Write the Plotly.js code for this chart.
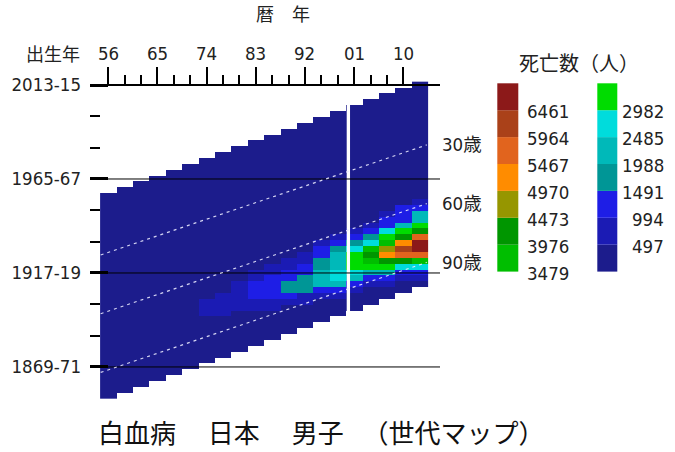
<!DOCTYPE html>
<html><head><meta charset="utf-8">
<script src="https://cdn.plot.ly/plotly-3.0.1.min.js"></script>
<style>html,body{margin:0;padding:0;background:#fff}</style>
</head><body><div id="chart" style="width:675px;height:452px"></div>
<script>
// ---- data ----
const periods = [1956,1959,1962,1965,1968,1971,1974,1977,1980,1983,1986,1989,1992,1995,1998,2001,2004,2007,2010,2013];
const periodTickVals = [1956,1965,1974,1983,1992,2001,2010];
const periodTickText = ['56','65','74','83','92','01','10'];
const periodMinorTicks = [1959,1962,1968,1971,1977,1980,1986,1989,1995,1998,2004,2007];
const ageGroupStarts = [0,3,6,9,12,15,18,21,24,27,30,33,36,39,42,45,48,51,54,57,60,63,66,69,72,75,78,81,84,87,90,93,96,99,102];
const cohortTickVals = [2014,1966,1918,1870];
const cohortTickText = ['2013-15','1965-67','1917-19','1869-71'];
const cohortMinorTicks = [1998,1982,1950,1934,1902,1886];
const ageLines = [30,60,90];
const ageLineLabels = ['30歳','60歳','90歳'];
const levelThresholds = [0,497,994,1491,1988,2485,2982,3479,3976,4473,4970,5467,5964,6461];
const levelColors = ['#1c1c8c','#1b1bb4','#1e1ee6','#009696','#00b9b9','#00dcdc','#00dc00','#00be00','#009600','#969600','#ff8c00','#e1641e','#aa4119','#8c1919'];
// deaths per period (rows) by age group (columns)
const deaths = [
 [150,140,100,80,75,80,85,90,95,100,110,120,130,140,150,160,170,175,180,180,175,165,150,130,105,80,55,35,20,10,5,2,1,0,0],
 [170,160,110,85,80,85,90,95,100,110,120,130,140,155,170,180,190,200,205,205,200,190,175,150,125,95,65,40,25,12,5,2,1,0,0],
 [185,170,115,90,85,90,95,100,105,115,125,135,150,165,180,195,210,220,230,235,230,220,200,175,145,110,75,48,28,14,6,2,1,0,0],
 [190,175,120,90,85,90,95,100,110,120,130,140,155,170,190,210,225,240,255,265,265,255,235,210,175,135,95,60,35,17,7,3,1,0,0],
 [185,170,115,85,80,85,90,95,105,115,125,140,155,175,195,215,235,255,275,290,295,290,275,250,215,170,120,78,45,22,9,3,1,0,0],
 [175,160,110,80,75,80,85,90,100,110,120,135,150,170,195,220,245,270,295,315,330,335,325,300,265,215,155,100,58,28,11,4,1,0,0],
 [165,150,105,75,70,75,80,85,95,105,115,130,145,165,190,215,245,275,305,335,360,380,390,420,520,540,505,380,230,120,45,15,4,1,0],
 [150,140,95,70,65,70,75,80,90,100,110,125,140,160,185,210,240,275,310,345,380,410,440,470,580,640,630,520,360,200,80,25,6,1,0],
 [140,130,90,65,60,65,70,75,85,95,105,120,135,155,180,210,240,275,315,355,395,430,470,540,690,780,800,700,480,280,120,38,9,2,0],
 [130,120,85,60,55,60,65,70,80,90,100,115,130,150,175,205,240,280,320,365,410,455,520,640,1010,1100,1050,870,620,380,170,55,13,2,0],
 [120,110,80,55,50,55,60,65,75,85,95,110,125,145,170,200,235,275,320,370,420,470,560,760,1050,1250,1350,1180,860,540,250,80,18,3,0],
 [110,100,75,50,45,50,55,60,70,80,90,105,120,140,165,195,230,270,315,365,420,480,600,850,1150,1400,1560,1520,1020,640,320,110,25,4,0],
 [100,90,70,48,42,48,52,58,68,78,88,100,115,135,160,190,225,265,310,360,420,490,640,920,1220,1450,1700,1820,1650,900,560,180,40,6,1],
 [95,85,65,45,40,45,50,55,65,75,85,98,112,130,155,185,220,260,305,360,425,520,1000,1300,1560,1850,2050,2250,2150,1200,700,260,60,9,1],
 [90,80,60,42,38,42,48,52,62,72,82,95,108,125,150,180,215,255,300,355,430,540,1120,1600,2000,2200,2400,2620,2700,2100,1150,520,110,15,2],
 [85,75,58,40,36,40,45,50,60,70,80,92,105,122,146,176,210,250,295,350,420,560,1150,1700,2550,3050,3250,3150,2700,2150,1250,620,140,20,3],
 [80,72,55,38,34,38,43,48,57,67,77,88,100,118,142,172,206,245,290,345,420,580,1200,1800,2650,3600,4050,3750,3150,2250,1300,700,160,24,3],
 [76,68,52,36,32,36,41,46,55,64,74,85,98,115,140,170,205,245,290,350,700,1020,1350,2600,3150,3750,4700,5100,4150,3200,2200,1050,540,60,5],
 [72,64,50,34,30,34,39,44,52,61,71,82,95,112,137,168,203,243,290,350,1000,1050,1450,2300,3200,4250,5250,6200,5750,4300,2750,1250,620,90,8],
 [68,60,48,32,28,32,37,42,50,58,68,78,92,110,135,165,200,240,288,350,600,1100,2050,2400,3300,4300,5800,6900,7100,5900,3800,2700,1200,560,130]
];

// ---- build ----
const W = 675, H = 452;
const px = v => v / W, py = v => 1 - v / H;
const numFont = "'Liberation Sans Narrow', 'DejaVu Sans Condensed', 'Liberation Sans', sans-serif";
const jpFont = "'Noto Sans CJK JP', sans-serif";
const NUM = 18.5;
const OFF = 1.2; // vertical plotting offset of cohort cells
const zmax = levelThresholds[1] * levelColors.length;

const cMin = periods[0] + OFF - ageGroupStarts[ageGroupStarts.length - 1];
const cMax = periods[periods.length - 1] + OFF;
const rows = [];
for (let c = cMin; c <= cMax + 0.01; c += 3) rows.push(+c.toFixed(1));
const z = rows.map(c => periods.map((p, k) => {
  const a = p + OFF - c;
  const j = ageGroupStarts.findIndex(s => Math.abs(s - a) < 0.5);
  return j < 0 ? null : deaths[k][j];
}));
const colorscale = [];
levelColors.forEach((col, i) => {
  colorscale.push([i / levelColors.length, col]);
  colorscale.push([(i + 1) / levelColors.length, col]);
});

const shapes = [];
shapes.push({type:'rect', xref:'x', yref:'y', x0:1999.64, x1:2000.25, y0:1888, y1:2008, fillcolor:'#fff', line:{width:0}, layer:'above'});
cohortTickVals.slice(1).forEach(c => shapes.push({type:'line', xref:'paper', yref:'y', x0:px(90), x1:px(440), y0:c, y1:c, line:{color:'#000', width:1}}));
const ax0 = 1954.6, ax1 = 2014.3;
ageLines.forEach(a => shapes.push({type:'line', xref:'x', yref:'y', x0:ax0, x1:ax1, y0:ax0 - a + 2.6, y1:ax1 - a - 0.9,
  line:{color:'rgba(235,235,255,0.9)', width:1.2, dash:'3px,4px'}}));

const annotations = [];
ageLines.forEach((a, i) => annotations.push({xref:'paper', yref:'y', x:px(440), y:ax1 - a - 0.9, xanchor:'left', yanchor:'middle',
  text:ageLineLabels[i], showarrow:false, font:{family:"'Liberation Sans Narrow', 'DejaVu Sans Condensed', 'Noto Sans CJK JP', sans-serif", size:NUM, color:'#222'}}));
periodTickVals.forEach((v, i) => annotations.push({xref:'x', yref:'paper', x:v, y:py(53.5), xanchor:'center', yanchor:'middle',
  text:periodTickText[i], showarrow:false, font:{family:numFont, size:NUM, color:'#222'}}));

const boxH = 26.9, boxTop = 83.3;
levelColors.forEach((col, i) => {
  const left = i >= 7;
  const r = left ? 13 - i : 6 - i;
  const x0 = left ? 497.3 : 597.3, x1 = left ? 518.3 : 617.3;
  const t = boxTop + boxH * r, b = t + boxH;
  shapes.push({type:'rect', xref:'paper', yref:'paper', x0:px(x0), x1:px(x1), y0:py(b), y1:py(t), fillcolor:col, line:{width:0}});
  if (i > 0) annotations.push({xref:'paper', yref:'paper', x: left ? px(525) : px(666), y: py(b + 1.5),
    xanchor: left ? 'left' : 'right', yanchor:'middle', text:String(levelThresholds[i]), showarrow:false,
    font:{family:numFont, size:NUM, color:'#222'}});
});
annotations.push({xref:'paper', yref:'paper', x:px(579), y:py(63), text:'死亡数（人）', showarrow:false, xanchor:'center', yanchor:'middle', font:{family:jpFont, size:20, color:'#222'}});
annotations.push({xref:'paper', yref:'paper', x:px(283), y:py(13), text:'暦　年', showarrow:false, xanchor:'center', yanchor:'middle', font:{family:jpFont, size:18, color:'#222'}});
annotations.push({xref:'paper', yref:'paper', x:px(53), y:py(53), text:'出生年', showarrow:false, xanchor:'center', yanchor:'middle', font:{family:jpFont, size:18, color:'#222'}});
annotations.push({xref:'paper', yref:'paper', x:px(320.5), y:py(451), text:'白血病 　日本 　男子 　（世代マップ）', showarrow:false, xanchor:'center', yanchor:'bottom', borderpad:0, font:{family:jpFont, size:26, color:'#111'}});

const trace = {type:'heatmap', x:periods, y:rows, z:z, colorscale:colorscale, zmin:0, zmax:zmax,
  showscale:false, hoverinfo:'skip', zsmooth:false};

const layout = {
  width:W, height:H, margin:{l:0, r:0, t:0, b:0, autoexpand:false},
  paper_bgcolor:'#fff', plot_bgcolor:'rgba(0,0,0,0)', showlegend:false,
  xaxis:{domain:[px(90), px(440)], range:[1952.65, 2016.72], anchor:'free', position:py(85), side:'top',
    showline:true, linecolor:'#000', linewidth:2, ticks:'outside', ticklen:17, tickwidth:2, tickcolor:'#000',
    tickmode:'array', tickvals:periodTickVals, showticklabels:false,
    minor:{tickmode:'array', tickvals:periodMinorTicks, ticks:'outside', ticklen:9, tickwidth:2, tickcolor:'#000'},
    showgrid:false, zeroline:false, fixedrange:true},
  yaxis:{domain:[py(405), py(78)], range:[1850.57, 2017.575], anchor:'x', showline:false,
    ticks:'inside', ticklen:18, tickwidth:3, tickcolor:'#000',
    tickmode:'array', tickvals:cohortTickVals, ticktext:cohortTickText, ticklabelstandoff:8,
    tickfont:{family:numFont, size:NUM, color:'#222'},
    minor:{tickmode:'array', tickvals:cohortMinorTicks, ticks:'inside', ticklen:10, tickwidth:2, tickcolor:'#000'},
    showgrid:false, zeroline:false, fixedrange:true},
  shapes:shapes, annotations:annotations
};
Plotly.newPlot('chart', [trace], layout, {staticPlot:true, displayModeBar:false});
</script></body></html>
